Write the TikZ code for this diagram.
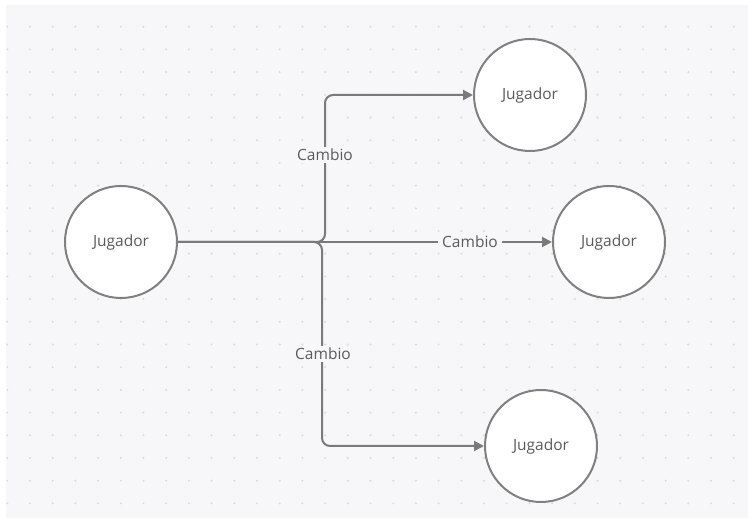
\documentclass[tikz,border=0pt]{standalone}
\usepackage{fontspec}
\setmainfont{Open Sans}
\usetikzlibrary{arrows.meta}
\definecolor{canvas}{HTML}{F7F7F9}
\definecolor{griddot}{HTML}{D9D9DE}
\definecolor{edge}{HTML}{7A7A7A}
\definecolor{rim}{HTML}{808080}
\definecolor{ink}{HTML}{5A5A5A}
\tikzset{
  player/.style={circle, draw=rim, line width=2pt, fill=white, minimum size=112pt,
    inner sep=0pt, text=ink, font=\fontsize{15.5}{18}\selectfont},
  link/.style={draw=edge, line width=2pt, rounded corners=8pt,
    -{Triangle[length=10pt,width=10pt]}},
  tag/.style={fill=canvas, text=ink, inner xsep=4pt, inner ysep=2pt,
    font=\fontsize{15.5}{18}\selectfont}
}
\begin{document}
\begin{tikzpicture}[x=1pt, y=-1pt]
  % page and dotted canvas
  \fill[white] (0,0) rectangle (748,518);
  \fill[canvas] (6,5) rectangle (748,518);
  \useasboundingbox (0,0) rectangle (748,518);
  \foreach \i in {0,...,32} {
    \foreach \j in {0,...,21} {
      \fill[griddot] ({7.3+22.7*\i},{26.7+22.7*\j}) circle (1.1pt);
    }
  }
  % players
  \node[player] (src) at (121,242) {Jugador};
  \node[player] (top) at (530,95) {Jugador};
  \node[player] (mid) at (609,242) {Jugador};
  \node[player] (bot) at (541,446) {Jugador};
  % branch bends
  \coordinate (upA) at (325,242);
  \coordinate (upB) at (325,95);
  \coordinate (dnA) at (322,242);
  \coordinate (dnB) at (322,446);
  % connectors
  \draw[link] (src.east) -- (upA) -- (upB) -- (top.west);
  \draw[link] (src.east) -- (dnA) -- (dnB) -- (bot.west);
  \draw[link] (src.east) -- (mid.west);
  % labels
  \node[tag] (l1) at (325,155) {Cambio};
  \node[tag] (l2) at (470,242) {Cambio};
  \node[tag] (l3) at (323,354) {Cambio};
\end{tikzpicture}
\end{document}
